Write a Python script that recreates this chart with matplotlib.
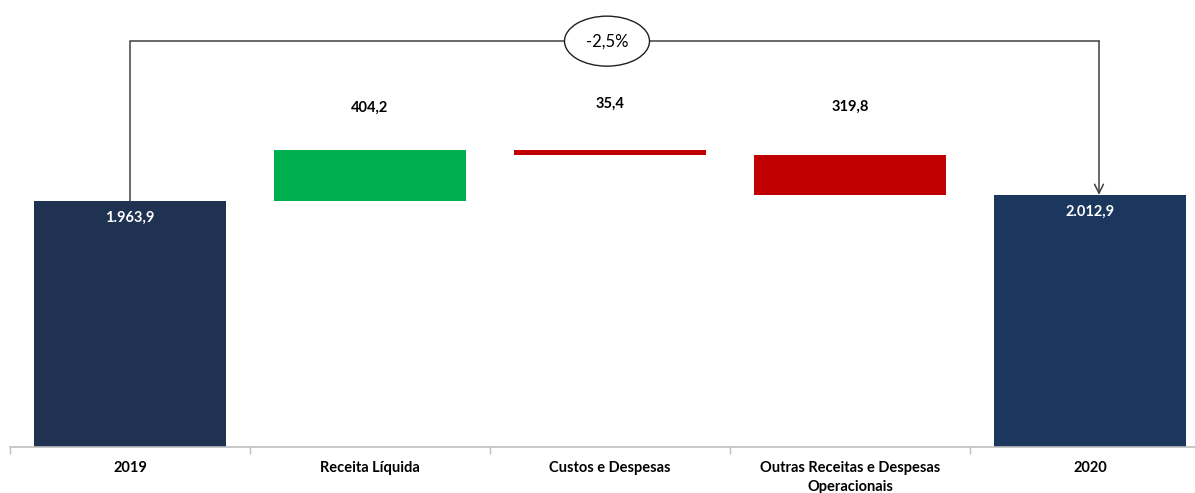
"""
Waterfall chart: 2019 -> 2020 bridge.
"""

import matplotlib.pyplot as plt
from matplotlib.patches import Ellipse
from matplotlib.transforms import blended_transform_factory

plt.rcParams['font.family'] = ['Lato', 'DejaVu Sans']

# Data
categories = ['2019', 'Receita Líquida', 'Custos e Despesas',
              'Outras Receitas e Despesas\nOperacionais', '2020']
start_value = 1963.9
deltas = [404.2, -35.4, -319.8]
end_value = 2012.9
delta_labels = ['404,2', '35,4', '319,8']
total_labels = ['1.963,9', '2.012,9']
change_label = '-2,5%'

navy_2019 = '#1f3252'
navy_2020 = '#1b375d'
green = '#00b050'
red = '#c00000'

W, H = 1195, 493
fig = plt.figure(figsize=(W / 100, H / 100), dpi=100)
# axes spans x 10..1210 px and y 0..447 px (from top)
ax = fig.add_axes([10 / W, (H - 447) / H, 1200 / W, 447 / H])

x = list(range(len(categories)))

# totals
ax.bar(x[0], start_value, width=0.8, color=navy_2019)
ax.bar(x[-1], end_value, width=0.8, color=navy_2020)

# floating deltas
level = start_value
for i, d in enumerate(deltas):
    bottom = level if d >= 0 else level + d
    ax.bar(x[i + 1], abs(d), bottom=bottom, width=0.8,
           color=green if d >= 0 else red)
    level += d

ax.set_xlim(-0.5, len(categories) - 0.5)
ax.set_ylim(0, 447 / (246 / start_value))

# delta labels above bars
trans = blended_transform_factory(ax.transData, ax.transAxes)
label_y = [0.758, 0.768, 0.762]
for i, lab in enumerate(delta_labels):
    ax.text(x[i + 1], label_y[i], lab, transform=trans, ha='center',
            va='center', fontsize=10.5, fontweight='bold', color='black')

# total labels inside bars
for xi, val, lab in [(x[0], start_value, total_labels[0]),
                     (x[-1], end_value, total_labels[1])]:
    ax.text(xi, val - 135, lab, ha='center', va='center', fontsize=10.5,
            fontweight='bold', color='white')

# bracket from 2019 to 2020
bracket_y = 3240
line_col = '#404040'
ax.plot([x[0], x[0], x[-1] + 0.0375], [start_value, bracket_y, bracket_y],
        color=line_col, lw=1.1, solid_joinstyle='miter')
ax.annotate('', xy=(x[-1] + 0.0375, end_value),
            xytext=(x[-1] + 0.0375, bracket_y),
            arrowprops=dict(arrowstyle='->', color=line_col, lw=1.1,
                            shrinkA=0, shrinkB=0, mutation_scale=16))
ex = 2 - 0.0125
ax.add_patch(Ellipse((ex, bracket_y), width=85 / 240, height=50 / 0.12526,
                     facecolor='white', edgecolor='#202020', lw=1.0,
                     zorder=3))
ax.text(ex, bracket_y, change_label, ha='center', va='center', fontsize=12,
        color='black', zorder=4)

# axis styling
for side in ['top', 'right', 'left']:
    ax.spines[side].set_visible(False)
ax.spines['bottom'].set_color('#bfbfbf')
ax.spines['bottom'].set_linewidth(1.2)
ax.set_yticks([])
ax.set_xticks(x)
ax.set_xticklabels(categories, fontsize=10.5, fontweight='bold',
                   linespacing=1.5)
ax.tick_params(axis='x', which='major', length=0, pad=10)
ax.set_xticks([i - 0.5 for i in range(len(categories) + 1)], minor=True)
ax.tick_params(axis='x', which='minor', length=5, color='#bfbfbf', width=1)

fig.savefig('out.png', dpi=100)
